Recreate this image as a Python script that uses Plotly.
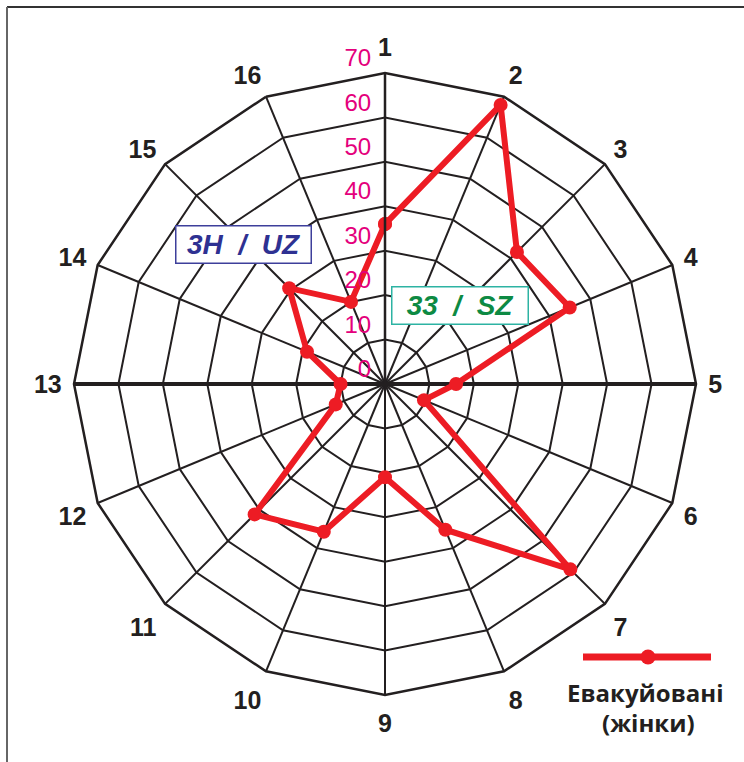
import plotly.graph_objects as go

# ---- data ----
categories = [str(i) for i in range(1, 17)]
values = [36, 68, 42, 45, 16, 9.5, 59, 35.5, 21, 36, 41.5, 12, 10, 19, 30.5, 20]
radial_ticks = [0, 10, 20, 30, 40, 50, 60, 70]
radial_max = 70
series_name = "Евакуйовані (жінки)"
legend_lines = ["Евакуйовані", "(жінки)"]
zone_left = "3H&nbsp;&nbsp;/&nbsp;&nbsp;UZ"
zone_right = "33&nbsp;&nbsp;/&nbsp;&nbsp;SZ"

W, H = 744, 762
CX, CY = 385, 384          # centre in px (from top-left)
R = 311                    # outer radius px
LABEL_SHIFT = 3.3          # radial tick label lift (data units)

INK = "#231f20"
RED = "#ed1c24"
MAGENTA = "#e4007c"


def dom(radius):
    yb = H - CY
    return dict(x=[(CX - radius) / W, (CX + radius) / W],
                y=[(yb - radius) / H, (yb + radius) / H])


fig = go.Figure()

# emphasised horizontal axis 13 - 5
fig.add_trace(go.Scatterpolar(
    r=[radial_max, 0, radial_max], theta=[categories[12], categories[12], categories[4]],
    mode="lines", line=dict(color=INK, width=4), hoverinfo="skip", showlegend=False,
))

# data series (closed)
fig.add_trace(go.Scatterpolar(
    r=values + values[:1], theta=categories + categories[:1],
    mode="lines+markers", name=series_name,
    line=dict(color=RED, width=6), marker=dict(color=RED, size=14),
    showlegend=False,
))

# helper trace for the shifted radial labels
fig.add_trace(go.Scatterpolar(r=[0], theta=[categories[0]], subplot="polar2",
                              mode="markers", marker=dict(opacity=0),
                              hoverinfo="skip", showlegend=False))

R2 = R * (radial_max + LABEL_SHIFT) / radial_max

fig.update_layout(
    width=W, height=H,
    margin=dict(l=0, r=0, t=0, b=0),
    paper_bgcolor="white",
    showlegend=False,
    polar=dict(
        domain=dom(R),
        gridshape="linear",
        bgcolor="white",
        angularaxis=dict(
            type="category", categoryarray=categories,
            direction="clockwise", rotation=90,
            showgrid=True, gridcolor=INK, gridwidth=2,
            showline=True, linecolor=INK, linewidth=2.5,
            ticks="outside", ticklen=6, tickcolor="rgba(0,0,0,0)",
            tickfont=dict(family="Liberation Sans, Arial, sans-serif", size=25,
                          color=INK, weight="bold"),
        ),
        radialaxis=dict(
            range=[0, radial_max], tickvals=radial_ticks,
            angle=90, showticklabels=False, ticks="",
            showgrid=True, gridcolor=INK, gridwidth=2,
            showline=True, linecolor=INK, linewidth=2.5,
        ),
    ),
    polar2=dict(
        domain=dom(R2),
        bgcolor="rgba(0,0,0,0)",
        angularaxis=dict(visible=False, direction="clockwise", rotation=90),
        radialaxis=dict(
            range=[0, radial_max + LABEL_SHIFT],
            tickvals=[v + LABEL_SHIFT for v in radial_ticks],
            ticktext=[str(v) for v in radial_ticks],
            angle=90, side="counterclockwise", tickangle=90,
            showgrid=False, showline=False,
            ticks="outside", ticklen=5, tickcolor="rgba(0,0,0,0)",
            tickfont=dict(family="Liberation Sans Narrow, Arial Narrow, Liberation Sans, sans-serif",
                          size=24, color=MAGENTA),
        ),
    ),
)

ann_font = dict(family="Liberation Sans, Arial, sans-serif", size=28,
                weight="bold", style="italic")
# zone labels
fig.add_annotation(x=243 / W, y=1 - 245 / H, xref="paper", yref="paper",
                   xanchor="center", yanchor="middle",
                   text=zone_left, showarrow=False, width=132, height=34,
                   bgcolor="white", bordercolor="#3d3f9b", borderwidth=1.5, borderpad=1,
                   font=dict(ann_font, color="#2e3192"))
fig.add_annotation(x=460.5 / W, y=1 - 305 / H, xref="paper", yref="paper",
                   xanchor="center", yanchor="middle",
                   text=zone_right, showarrow=False, width=133, height=34,
                   bgcolor="white", bordercolor="#2db3a3", borderwidth=1.5, borderpad=1,
                   font=dict(ann_font, color="#0d8a43"))

# legend key (drawn)
fig.add_shape(type="line", xref="paper", yref="paper",
              x0=583 / W, x1=711 / W, y0=1 - 657 / H, y1=1 - 657 / H,
              line=dict(color=RED, width=7))
fig.add_shape(type="circle", xref="paper", yref="paper",
              x0=640.5 / W, x1=655.5 / W, y0=1 - 664.5 / H, y1=1 - 649.5 / H,
              fillcolor=RED, line=dict(color=RED, width=0))
leg_font = dict(family="Open Sans, Roboto, sans-serif", size=24, color=INK, weight="bold")
fig.add_annotation(x=645 / W, y=1 - 692 / H, xref="paper", yref="paper",
                   xanchor="center", yanchor="middle",
                   text=legend_lines[0], showarrow=False, font=leg_font)
fig.add_annotation(x=648 / W, y=1 - 722 / H, xref="paper", yref="paper",
                   xanchor="center", yanchor="middle",
                   text=legend_lines[1], showarrow=False, font=leg_font)

# frame (top and left edges)
fig.add_shape(type="line", xref="paper", yref="paper", x0=7 / W, x1=1, y0=1 - 7 / H, y1=1 - 7 / H,
              line=dict(color="#333333", width=2))
fig.add_shape(type="line", xref="paper", yref="paper", x0=7 / W, x1=7 / W, y0=0, y1=1 - 7 / H,
              line=dict(color="#666666", width=2))

fig.write_html("out.html", config={"displayModeBar": False, "staticPlot": True},
               post_script="document.body.style.margin='0';document.body.style.overflow='hidden';")
